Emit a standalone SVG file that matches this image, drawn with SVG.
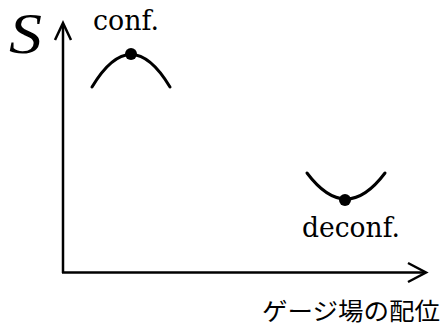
<svg xmlns="http://www.w3.org/2000/svg" width="446" height="326" viewBox="0 0 446 326">
<style>
.ax{fill:none;stroke:#000;stroke-width:2.5;stroke-linecap:butt}
.cv{fill:none;stroke:#000;stroke-width:3;stroke-linecap:round}
.lbl{font-family:"DejaVu Serif","Liberation Serif",serif;font-size:28px;fill:#000}
.jp{font-family:"Noto Sans CJK JP","Noto Sans",sans-serif;font-size:24px;fill:#000}
</style>
<rect width="446" height="326" fill="#fff"/>
<g id="connectors">
<path class="ax" d="M63,273 L63,24"/>
<path class="ax" d="M55,40 L63,23 L71,40"/>
<path class="ax" d="M62,272.5 L425,272.5"/>
<path class="ax" d="M408,263 L426,272.5 L408,282"/>
</g>
<g id="axis-label-S">
<text x="9" y="53" textLength="33" lengthAdjust="spacingAndGlyphs" style="font-family:'Liberation Serif','DejaVu Serif',serif;font-style:italic;font-size:57px">S</text>
</g>
<g id="conf">
<path class="cv" d="M92,87 Q131,22 170,87"/>
<circle cx="131" cy="54" r="6"/>
<text class="lbl" x="93" y="30" textLength="66" lengthAdjust="spacingAndGlyphs">conf.</text>
</g>
<g id="deconf">
<path class="cv" d="M307,173 Q346,225 385,173"/>
<circle cx="345" cy="200" r="6"/>
<text class="lbl" x="302" y="237" textLength="98" lengthAdjust="spacingAndGlyphs">deconf.</text>
</g>
<g id="axis-label-x">
<text class="jp" x="262" y="320" textLength="178" lengthAdjust="spacingAndGlyphs">ゲージ場の配位</text>
</g>
</svg>
